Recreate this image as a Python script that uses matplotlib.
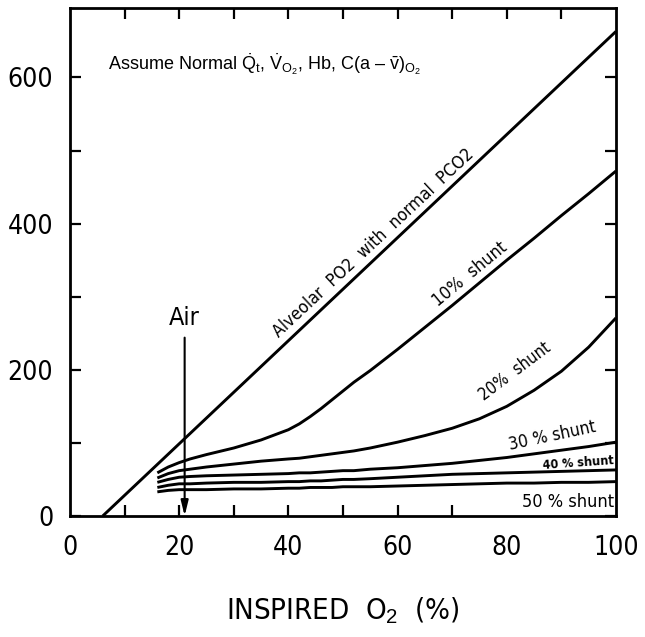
import numpy as np
import matplotlib
matplotlib.use("Agg")
import matplotlib.pyplot as plt

plt.rcParams['mathtext.fontset'] = 'custom'
plt.rcParams['mathtext.rm'] = 'Liberation Sans'
plt.rcParams['mathtext.it'] = 'Liberation Sans:italic'

NARROW = dict(family='DejaVu Sans', stretch='condensed')

# alveolar PO2 line (inspired O2 %, mmHg)
alv_x = [6, 100]
alv_y = [0, 663]

# shunt curves
shunt_x = [16, 18, 20, 22, 25, 30, 35, 40, 42, 44, 46, 48, 50, 52, 55, 60, 65,
           70, 75, 80, 85, 90, 95, 100]
shunt_10 = [59, 67, 73, 78, 84, 93, 104, 118, 126, 136, 147, 159, 171, 183, 199,
            228, 258, 288, 319, 350, 380, 411, 441, 472]
shunt_20 = [52, 58, 62, 64, 67, 71, 75, 78, 79, 81, 83, 85, 87, 89, 93, 101, 110,
            120, 133, 150, 172, 198, 231, 271]
shunt_30 = [46, 50, 53, 54, 55, 56, 57, 58, 59, 59, 60, 61, 62, 62, 64, 66, 69,
            72, 76, 80, 85, 90, 95, 101]
shunt_40 = [39, 42, 44, 44, 45, 46, 46, 47, 47, 48, 48, 49, 50, 50, 51, 53, 55,
            57, 58, 59, 60, 61, 62, 63]
shunt_50 = [33, 35, 36, 36, 36, 37, 37, 38, 38, 39, 39, 39, 40, 40, 40, 41, 42,
            43, 44, 45, 45, 46, 46, 47]

air_x = 21
x_ticks = [0, 20, 40, 60, 80, 100]
y_ticks = [0, 200, 400, 600]

fig = plt.figure(figsize=(6.45, 6.37), dpi=100)
ax = fig.add_axes([0.1085, 0.19, 0.955 - 0.1085, 0.9874 - 0.19])

lw = 2.1
ax.plot(alv_x, alv_y, color='black', lw=lw, solid_capstyle='butt')
for ys in [shunt_10, shunt_20, shunt_30, shunt_40, shunt_50]:
    ax.plot(shunt_x, ys, color='black', lw=lw, solid_capstyle='butt',
            solid_joinstyle='round')

ax.set_xlim(0, 100)
ax.set_ylim(0, 695)

for s in ax.spines.values():
    s.set_linewidth(2.0)

ax.set_xticks(x_ticks)
ax.set_yticks(y_ticks)
ax.set_xticklabels([str(v) for v in x_ticks], fontsize=19, **NARROW)
ax.set_yticklabels([str(v) for v in y_ticks], fontsize=19, **NARROW)
ax.tick_params(axis='x', length=0, pad=14)
ax.tick_params(axis='y', direction='in', length=8, width=1.6, pad=12, right=True)
ax.set_yticks([100, 300, 500], minor=True)
ax.tick_params(axis='y', which='minor', direction='in', length=8, width=1.6, right=True)

# inward ticks on top and bottom edges
top = ax.secondary_xaxis('top')
top.set_xticks([10, 20, 30, 40, 50, 60, 70, 80, 90])
top.tick_params(direction='in', length=8, width=1.6, labeltop=False)
top.spines['top'].set_visible(False)
bot = ax.secondary_xaxis('bottom')
bot.set_xticks([10, 20, 30, 40, 50, 60, 70])
bot.tick_params(direction='in', length=8, width=1.6, labelbottom=False)
bot.spines['bottom'].set_visible(False)

ax.set_xlabel(r'INSPIRED  O$_2$  (%)', fontsize=21, labelpad=24, **NARROW)

# annotation text
ax.text(7, 618, r'Assume Normal $\dot{\mathrm{Q}}_\mathrm{t}$, $\dot{\mathrm{V}}_{\mathrm{O}_2}$, Hb, C(a – $\bar{\mathrm{v}}$)$_{\mathrm{O}_2}$',
        family='Liberation Sans', fontsize=13, va='center', ha='left')

# curve labels
ax.text(55.5, 373, 'Alveolar  PO2  with  normal  PCO2', rotation=43, fontsize=12.6,
        ha='center', va='center', **NARROW)
ax.text(73.3, 331, '10%  shunt', rotation=39.5, fontsize=12.8,
        ha='center', va='center', **NARROW)
ax.text(81.5, 198, '20%  shunt', rotation=37, fontsize=12,
        ha='center', va='center', **NARROW)
ax.text(88.3, 109, '30 % shunt', rotation=12, fontsize=12.5,
        ha='center', va='center', **NARROW)
ax.text(93, 73, '40 % shunt', rotation=4, fontsize=9, fontweight='bold',
        ha='center', va='center', **NARROW)
ax.text(91.3, 19, '50 % shunt', fontsize=13,
        ha='center', va='center', **NARROW)

# air arrow
ax.annotate('', xy=(air_x, 0), xytext=(air_x, 244),
            arrowprops=dict(arrowstyle='-|>,head_length=0.9,head_width=0.22',
                            lw=1.5, color='black', shrinkA=0, shrinkB=0))
ax.text(air_x, 271, 'Air', fontsize=18, ha='center', va='center', **NARROW)

fig.savefig('out.png', dpi=100)
